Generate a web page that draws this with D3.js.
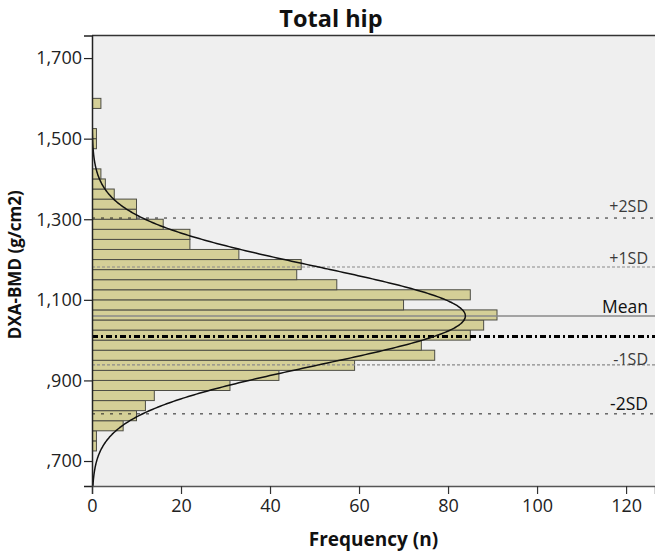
<!DOCTYPE html>
<html>
<head>
<meta charset="utf-8">
<script src="https://cdn.jsdelivr.net/npm/d3@7"></script>
<style>
  body { margin: 0; background: #fff; }
  text { font-family: "Open Sans", "DejaVu Sans", sans-serif; }
</style>
</head>
<body>
<svg id="chart" width="655" height="558"></svg>
<script>
// bin lower edges (g/cm2) and counts, bin width 0.025
const binStarts = [0.725, 0.750, 0.775, 0.800, 0.825, 0.850, 0.875, 0.900, 0.925, 0.950,
                   0.975, 1.000, 1.025, 1.050, 1.075, 1.100, 1.125, 1.150, 1.175, 1.200,
                   1.225, 1.250, 1.275, 1.300, 1.325, 1.350, 1.375, 1.400, 1.475, 1.500, 1.575];
const binCounts = [1, 1, 7, 10, 12, 14, 31, 42, 59, 77,
                   74, 85, 88, 91, 70, 85, 55, 46, 47, 33,
                   22, 22, 16, 10, 10, 5, 3, 2, 1, 1, 2];
const binWidth = 0.025;

const yTicks = [0.7, 0.9, 1.1, 1.3, 1.5, 1.7];
const xTicks = [0, 20, 40, 60, 80, 100, 120];

const meanValue = 1.060;
const sdValue = 0.1215;
const totalN = 1022;
const dashDotValue = 1.009;

const refLines = [
    {label: '+2SD', value: meanValue + 2 * sdValue, kind: 'sd2'},
    {label: '+1SD', value: meanValue + sdValue, kind: 'sd1'},
    {label: 'Mean', value: meanValue, kind: 'mean'},
    {label: '-1SD', value: meanValue - sdValue, kind: 'sd1'},
    {label: '-2SD', value: meanValue - 2 * sdValue, kind: 'sd2'}
];

const plotLeft = 92, plotRight = 655, plotTop = 35.5, plotBottom = 486;

const svg = d3.select('#chart');

const x = d3.scaleLinear().domain([0, 126.5]).range([plotLeft, plotRight]);
const y = d3.scaleLinear().domain([0.638, 1.756]).range([plotBottom, plotTop]);

svg.append('rect')
    .attr('x', plotLeft).attr('y', plotTop)
    .attr('width', plotRight - plotLeft).attr('height', plotBottom - plotTop)
    .attr('fill', '#efefef');

svg.append('clipPath').attr('id', 'plot-clip')
    .append('rect')
    .attr('x', plotLeft).attr('y', plotTop)
    .attr('width', plotRight - plotLeft).attr('height', plotBottom - plotTop);

const plot = svg.append('g').attr('clip-path', 'url(#plot-clip)');

// bars
const bins = binStarts.map((s, i) => ({start: s, count: binCounts[i]}));
plot.selectAll('rect.bar')
    .data(bins)
    .enter()
    .append('rect')
    .attr('class', 'bar')
    .attr('x', x(0))
    .attr('y', d => y(d.start + binWidth))
    .attr('width', d => x(d.count) - x(0))
    .attr('height', d => y(d.start) - y(d.start + binWidth))
    .attr('fill', '#d4cf97')
    .attr('stroke', '#4d4d45')
    .attr('stroke-width', 1);

// reference lines
const lineStyle = {
    sd2: {stroke: '#222', width: 1, dash: '3,6'},
    sd1: {stroke: '#8a8a8a', width: 1.2, dash: '3,2'},
    mean: {stroke: '#8a8a8a', width: 1.5, dash: null}
};

plot.selectAll('line.ref')
    .data(refLines)
    .enter()
    .append('line')
    .attr('class', 'ref')
    .attr('x1', plotLeft).attr('x2', plotRight)
    .attr('y1', d => y(d.value)).attr('y2', d => y(d.value))
    .attr('stroke', d => lineStyle[d.kind].stroke)
    .attr('stroke-width', d => lineStyle[d.kind].width)
    .attr('stroke-dasharray', d => lineStyle[d.kind].dash);

plot.append('line')
    .attr('x1', plotLeft).attr('x2', plotRight)
    .attr('y1', y(dashDotValue)).attr('y2', y(dashDotValue))
    .attr('stroke', '#000')
    .attr('stroke-width', 3)
    .attr('stroke-dasharray', '6,3,2,3');

// fitted normal curve
const peak = totalN * binWidth / (sdValue * Math.sqrt(2 * Math.PI));
const curveVals = d3.range(0.638, 1.756, 0.002);
const line = d3.line()
    .x(v => x(peak * Math.exp(-0.5 * Math.pow((v - meanValue) / sdValue, 2))))
    .y(v => y(v))
    .curve(d3.curveBasis);

plot.append('path')
    .datum(curveVals)
    .attr('d', line)
    .attr('fill', 'none')
    .attr('stroke', '#111')
    .attr('stroke-width', 1.5);

// labels for reference lines
const labelLift = {'+2SD': 6, '+1SD': 3, 'Mean': 3, '-1SD': 0, '-2SD': 4};
const strongLabel = d => d.label === 'Mean' || d.label === '-2SD';

svg.selectAll('text.ref-label')
    .data(refLines)
    .enter()
    .append('text')
    .attr('class', 'ref-label')
    .attr('x', 648)
    .attr('y', d => y(d.value) - labelLift[d.label])
    .attr('text-anchor', 'end')
    .attr('font-size', d => strongLabel(d) ? '17.5px' : '16px')
    .attr('fill', d => strongLabel(d) ? '#111' : '#3a3a3a')
    .text(d => d.label);

// axes frame
svg.append('line')
    .attr('x1', plotLeft).attr('x2', plotRight)
    .attr('y1', plotTop).attr('y2', plotTop)
    .attr('stroke', '#333').attr('stroke-width', 1.5);

const yAxis = svg.append('g')
    .attr('transform', `translate(${plotLeft},0)`)
    .call(d3.axisLeft(y)
        .tickValues(yTicks)
        .tickSize(8)
        .tickPadding(2)
        .tickFormat(v => d3.format('.3f')(v).replace(/^0/, '').replace('.', ',')));
yAxis.select('.domain').attr('stroke', '#222').attr('stroke-width', 1.5);
yAxis.selectAll('.tick line').attr('stroke', '#222').attr('stroke-width', 1.2);
yAxis.selectAll('.tick text')
    .attr('font-family', '"Open Sans", sans-serif')
    .attr('font-size', '18px')
    .attr('fill', '#222');

const xAxis = svg.append('g')
    .attr('transform', `translate(0,${plotBottom})`)
    .call(d3.axisBottom(x)
        .tickValues(xTicks)
        .tickSize(8)
        .tickPadding(5));
xAxis.select('.domain').attr('stroke', '#555').attr('stroke-width', 1.5);
xAxis.selectAll('.tick line').attr('stroke', '#333').attr('stroke-width', 1.2);
xAxis.selectAll('.tick text')
    .attr('font-family', '"Open Sans", sans-serif')
    .attr('font-size', '18px')
    .attr('fill', '#222');

// titles
svg.append('text')
    .attr('x', 331).attr('y', 27)
    .attr('text-anchor', 'middle')
    .attr('font-size', '23.5px')
    .attr('font-weight', 'bold')
    .attr('fill', '#111')
    .text('Total hip');

svg.append('text')
    .attr('x', (plotLeft + plotRight) / 2).attr('y', 546)
    .attr('text-anchor', 'middle')
    .attr('font-size', '19px')
    .attr('font-weight', 'bold')
    .attr('fill', '#111')
    .text('Frequency (n)');

svg.append('text')
    .attr('transform', `translate(21,${(plotTop + plotBottom) / 2 + 4}) rotate(-90)`)
    .attr('text-anchor', 'middle')
    .attr('font-size', '17px')
    .attr('font-weight', 'bold')
    .attr('fill', '#111')
    .text('DXA-BMD (g/cm2)');
</script>
</body>
</html>
